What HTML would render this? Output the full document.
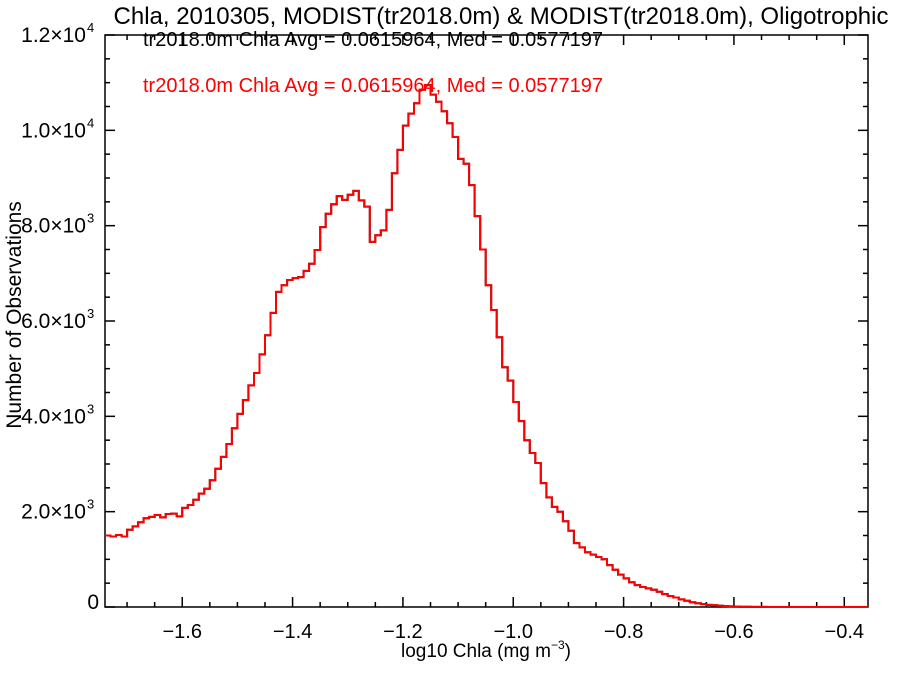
<!DOCTYPE html>
<html><head><meta charset="utf-8"><style>
html,body{margin:0;padding:0;background:#fff;}
svg{display:block;font-family:"Liberation Sans",sans-serif;}
</style></head><body>
<svg id="chart" width="900" height="675" viewBox="0 0 900 675" xmlns="http://www.w3.org/2000/svg">
<text x="501" y="24" font-size="24" text-anchor="middle" fill="#000">Chla, 2010305, MODIST(tr2018.0m) &amp; MODIST(tr2018.0m), Oligotrophic</text>
<text x="143" y="46" font-size="20" fill="#000">tr2018.0m Chla Avg = 0.0615964, Med = 0.0577197</text>
<text x="143" y="92" font-size="20" fill="#ff0000">tr2018.0m Chla Avg = 0.0615964, Med = 0.0577197</text>
<text x="486" y="657" font-size="19" text-anchor="middle" fill="#000">log10 Chla (mg m<tspan font-size="12" dy="-8">−3</tspan><tspan dy="8">)</tspan></text>
<text transform="translate(21,315) rotate(-90)" font-size="21" text-anchor="middle" fill="#000">Number of Observations</text>
<g id="axes"></g>
<path id="hist-black" fill="none" stroke="#000" stroke-width="2"/>
<path id="hist-red" fill="none" stroke="#ff0000" stroke-width="2"/>
</svg>
<script>
const binStart = -1.74;
const binWidth = 0.01;
const counts = [1500,1480,1510,1480,1620,1690,1780,1860,1890,1930,1880,1950,1960,1900,2080,2140,2250,2380,2480,2660,2900,3150,3420,3750,4050,4340,4650,4910,5300,5700,6170,6610,6750,6860,6900,6920,7050,7200,7490,7970,8250,8450,8620,8540,8650,8730,8530,8400,7660,7800,7900,8330,9100,9590,10100,10350,10570,10850,10950,10750,10600,10400,10150,9860,9400,9300,8850,8200,7500,6750,6230,5660,5030,4750,4300,3900,3500,3230,3020,2600,2300,2100,2000,1800,1600,1340,1250,1150,1100,1050,1000,880,780,680,600,520,460,420,390,360,320,270,230,200,160,130,100,80,60,45,35,25,18,12,8,6,4,3,2,2,1,1,1,1,1,1,1,0,0,0,0,0,0,0,0,0,0,0,0];
const xTicks = [-1.6,-1.4,-1.2,-1.0,-0.8,-0.6,-0.4];
const xTickLabels = ["−1.6","−1.4","−1.2","−1.0","−0.8","−0.6","−0.4"];
const yTicks = [0,2000,4000,6000,8000,10000,12000];
const yTickMant = ["0","2.0","4.0","6.0","8.0","1.0","1.2"];
const yTickExp = ["","3","3","3","3","4","4"];

const L=105,R=868,T=35,B=607;
const xMin=-1.74,xMax=-0.357,yMax=12000;
const sx=v=>L+(v-xMin)/(xMax-xMin)*(R-L);
const sy=v=>B-v/yMax*(B-T);
const NS="http://www.w3.org/2000/svg";
const axes=document.getElementById('axes');
function ln(x1,y1,x2,y2,name){
  const e=document.createElementNS(NS,'line');
  e.setAttribute('x1',x1);e.setAttribute('y1',y1);e.setAttribute('x2',x2);e.setAttribute('y2',y2);
  e.setAttribute('stroke','#000');e.setAttribute('stroke-width','1.5');
  
  
  axes.appendChild(e);
}
const box=document.createElementNS(NS,'rect');
box.setAttribute('x',L);box.setAttribute('y',T);box.setAttribute('width',R-L);box.setAttribute('height',B-T);
box.setAttribute('fill','none');box.setAttribute('stroke','#000');box.setAttribute('stroke-width','1.5');


axes.appendChild(box);
for(let v=-1.7;v<=-0.36;v+=0.05){
  const x=sx(v);const major=Math.abs(v*5-Math.round(v*5))<1e-6;const len=major?10:5;
  ln(x,B,x,B-len,'x-tick');ln(x,T,x,T+len,'x-tick-top');
}
for(let v=0;v<=yMax;v+=500){
  const y=sy(v);const major=v%2000===0;const len=major?10:5;
  ln(L,y,L+len,y,'y-tick');ln(R,y,R-len,y,'y-tick-right');
}
xTicks.forEach((v,i)=>{
  const t=document.createElementNS(NS,'text');
  t.setAttribute('x',sx(v));t.setAttribute('y',B+31);t.setAttribute('font-size','20');t.setAttribute('text-anchor','middle');
  t.textContent=xTickLabels[i];
  
  
  axes.appendChild(t);
});
yTicks.forEach((v,i)=>{
  const t=document.createElementNS(NS,'text');
  t.setAttribute('x',yTickExp[i]?86:99);t.setAttribute('y',sy(v)+(yTickExp[i]?7:2));t.setAttribute('font-size','21');t.setAttribute('text-anchor','end');
  t.textContent=yTickMant[i]+(yTickExp[i]?"×10":"");
  
  
  axes.appendChild(t);
  if(yTickExp[i]){
    const s=document.createElementNS(NS,'text');
    s.setAttribute('x',87);s.setAttribute('y',sy(v)-3);s.setAttribute('font-size','13');
    s.textContent=yTickExp[i];
    
    
    axes.appendChild(s);
  }
});
let d='';
counts.forEach((c,i)=>{
  const x0=sx(binStart+i*binWidth),x1=Math.min(R,sx(binStart+(i+1)*binWidth)),y=sy(c);
  d+=(i===0?'M':'L')+x0.toFixed(1)+','+y.toFixed(1)+'L'+x1.toFixed(1)+','+y.toFixed(1);
});
document.getElementById('hist-black').setAttribute('d',d);
document.getElementById('hist-red').setAttribute('d',d);
</script>
</body></html>
